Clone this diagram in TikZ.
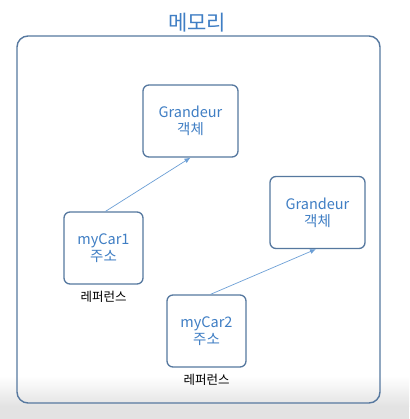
\documentclass[tikz,border=0pt]{standalone}
\usepackage{fontspec}
\setmainfont{Noto Sans CJK KR}
\usetikzlibrary{arrows.meta}
\definecolor{framec}{HTML}{56789F}
\definecolor{textblue}{HTML}{3F7EC4}
\definecolor{arrowc}{HTML}{6C9FD6}
\definecolor{bandgray}{HTML}{E3E3E3}
\tikzset{
  objbox/.style={draw=framec, line width=1.3pt, rounded corners=6pt, fill=white,
    minimum width=95pt, minimum height=72pt, align=center, text=textblue,
    font=\fontsize{14.5}{17}\selectfont, inner sep=0pt},
  refbox/.style={objbox, minimum width=79pt},
  reflabel/.style={text=black, font=\fontsize{12.5}{15}\selectfont, inner sep=0pt},
  refarrow/.style={draw=arrowc, line width=0.7pt, -{Latex[length=6pt,width=5pt]}},
}
\begin{document}
\begin{tikzpicture}[x=1pt,y=-1pt]
\useasboundingbox (0,0) rectangle (409,419);
\fill[white] (0,0) rectangle (409,419);
\shade[top color=white, bottom color=bandgray] (0,376) rectangle (409,406);
\fill[bandgray] (0,406) rectangle (409,419);
% outer memory frame
\draw[framec, line width=1.4pt, rounded corners=11pt] (17,36) rectangle (380,403);
\node[text=textblue, font=\fontsize{21}{24}\selectfont, inner sep=0pt] (title) at (197,23) {메모리};
% objects
\node[objbox] (g1) at (190.5,121) {Grandeur\\객체};
\node[objbox] (g2) at (317.5,212.5) {Grandeur\\객체};
% references
\node[refbox] (c1) at (103.5,248) {myCar1\\주소};
\node[refbox] (c2) at (206.5,331) {myCar2\\주소};
\node[reflabel] (r1) at (103.5,297) {레퍼런스};
\node[reflabel] (r2) at (206.5,380) {레퍼런스};
% arrows
\draw[refarrow] ([xshift=2pt]c1.north) -- (g1.south);
\draw[refarrow] ([xshift=4pt]c2.north) -- ([xshift=-1.5pt]g2.south);
\end{tikzpicture}
\end{document}
